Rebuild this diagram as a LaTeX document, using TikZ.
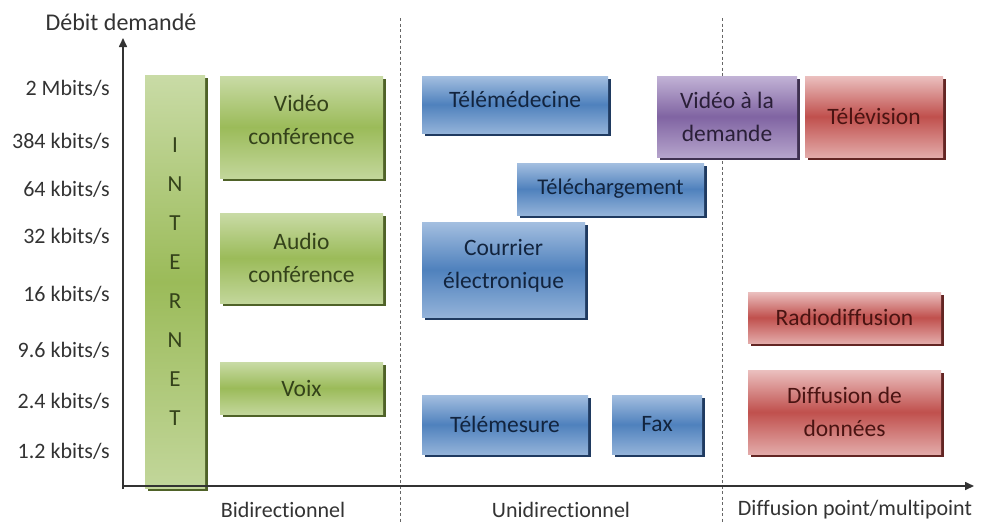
\documentclass[tikz,border=0pt]{standalone}
\usepackage{fontspec}
\setmainfont{Carlito}[Ligatures={NoCommon,NoRare}]
\usetikzlibrary{shadows,arrows.meta}
\definecolor{gtop}{HTML}{C9DBA6}\definecolor{gmid}{HTML}{9BBB59}\definecolor{gdark}{HTML}{4F6228}\definecolor{gtxt}{HTML}{34421A}
\definecolor{btop}{HTML}{A4BFE0}\definecolor{bmid}{HTML}{4F81BD}\definecolor{bdark}{HTML}{1F3A60}\definecolor{btxt}{HTML}{12243E}
\definecolor{rtop}{HTML}{EBC0BF}\definecolor{rmid}{HTML}{C0504D}\definecolor{rdark}{HTML}{632523}\definecolor{rtxt}{HTML}{4A1412}
\definecolor{ptop}{HTML}{C2B3D6}\definecolor{pmid}{HTML}{8064A2}\definecolor{pdark}{HTML}{3F3151}\definecolor{ptxt}{HTML}{2A1F38}
\definecolor{axcol}{HTML}{333333}
\newcommand{\lift}[1]{\rule[-#1]{0pt}{1pt}}
\tikzset{
  box/.style={rectangle,inner sep=0pt,align=center,font=\fontsize{23.5}{33}\selectfont},
  gbox/.style={box,top color=gtop,bottom color=gtop!85!gmid,middle color=gmid,text=gtxt,
    general shadow={shadow xshift=2.5pt,shadow yshift=-3pt,fill=gdark}},
  bbox/.style={box,top color=btop,bottom color=btop!80!bmid,middle color=bmid,text=btxt,
    general shadow={shadow xshift=2.5pt,shadow yshift=-3pt,fill=bdark}},
  rbox/.style={box,top color=rtop,bottom color=rtop!80!rmid,middle color=rmid,text=rtxt,
    general shadow={shadow xshift=2.5pt,shadow yshift=-3pt,fill=rdark}},
  pbox/.style={box,top color=ptop,bottom color=ptop!80!pmid,middle color=pmid,text=ptxt,
    general shadow={shadow xshift=2.5pt,shadow yshift=-3pt,fill=pdark}},
  ylab/.style={anchor=east,inner sep=0pt,font=\fontsize{22}{24}\selectfont,text=axcol},
  xlab/.style={anchor=center,inner sep=0pt,font=\fontsize{22}{24}\selectfont,text=axcol},
  axis/.style={line width=1.6pt,draw=axcol,-{Triangle[length=9pt,width=8pt]}},
  sep/.style={draw=gray!80!black,line width=0.9pt,dash pattern=on 3pt off 2.5pt}
}
\begin{document}
\begin{tikzpicture}[x=1pt,y=-1pt]
\useasboundingbox[fill=white] (0,0) rectangle (981,522);
% separators
\coordinate (s1t) at (400,18); \coordinate (s1b) at (400,522);
\coordinate (s2t) at (722,18); \coordinate (s2b) at (722,522);
\draw[sep] (s1t) -- (s1b);
\draw[sep] (s2t) -- (s2b);
% boxes
\node[gbox,minimum width=60pt,minimum height=413pt,font=\fontsize{23}{39}\selectfont] (internet) at (175,281.5) {I\\N\\T\\E\\R\\N\\E\\T};
\node[gbox,minimum width=163pt,minimum height=102pt] (visio) at (301.5,127) {Vidéo\\conférence\lift{14pt}};
\node[gbox,minimum width=163pt,minimum height=90pt] (audio) at (301.5,258) {Audio\\conférence};
\node[gbox,minimum width=163pt,minimum height=52pt] (voix) at (301.5,388) {Voix};
\node[bbox,minimum width=186pt,minimum height=57pt] (telemed) at (515,104.5) {Télémédecine\lift{10pt}};
\node[pbox,minimum width=140pt,minimum height=81pt] (vod) at (727,116.5) {Vidéo à la\\demande};
\node[rbox,minimum width=138pt,minimum height=81pt] (tv) at (874,116.5) {Télévision};
\node[bbox,minimum width=187pt,minimum height=52pt,font=\fontsize{22.5}{26}\selectfont] (telech) at (610.5,189) {Téléchargement};
\node[bbox,minimum width=163pt,minimum height=95pt] (mail) at (503.5,269.5) {Courrier\\électronique\lift{12pt}};
\node[rbox,minimum width=193pt,minimum height=51pt] (radio) at (844.5,317.5) {Radiodiffusion};
\node[rbox,minimum width=193pt,minimum height=84pt] (data) at (844.5,412) {Diffusion de\\données};
\node[bbox,minimum width=166pt,minimum height=59pt] (telemes) at (505,424.5) {Télémesure};
\node[bbox,minimum width=90pt,minimum height=59pt] (fax) at (657,424.5) {Fax};
% axes
\coordinate (o) at (123,486);
\coordinate (ytip) at (123,38);
\coordinate (xtip) at (974,486);
\coordinate (ob) at (123,489);
\draw[axis] (ob) -- (ytip);
\draw[axis] (o) -- (xtip);
\node[inner sep=0pt,font=\fontsize{24}{26}\selectfont,text=axcol] (ytitle) at (121,22) {Débit demandé};
% y labels
\node[ylab] (l1) at (110,88) {2 Mbits/s};
\node[ylab] (l2) at (110,141) {384 kbits/s};
\node[ylab] (l3) at (110,189) {64 kbits/s};
\node[ylab] (l4) at (110,236) {32 kbits/s};
\node[ylab] (l5) at (110,294) {16 kbits/s};
\node[ylab] (l6) at (110,350) {9.6 kbits/s};
\node[ylab] (l7) at (110,401) {2.4 kbits/s};
\node[ylab] (l8) at (110,451) {1.2 kbits/s};
% x labels
\node[xlab] (c1) at (283,510) {Bidirectionnel};
\node[xlab] (c2) at (561,510) {Unidirectionnel};
\node[xlab] (c3) at (855,510) {Diffusion point/multipoint};
\end{tikzpicture}
\end{document}
